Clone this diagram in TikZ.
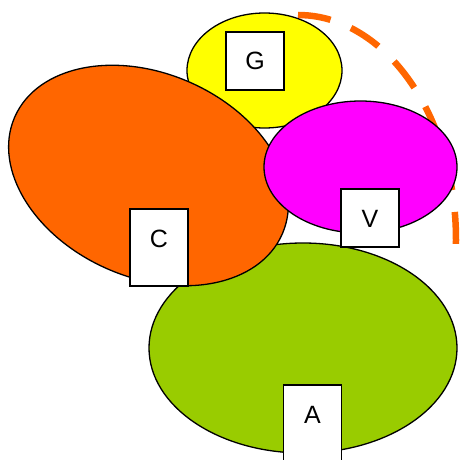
\documentclass[tikz,border=0pt]{standalone}
\usepackage{fontspec}
\setmainfont{Liberation Sans}
\usetikzlibrary{shapes.geometric,positioning}

\definecolor{fillG}{HTML}{FFFF00}
\definecolor{fillC}{HTML}{FF6600}
\definecolor{fillV}{HTML}{FF00FF}
\definecolor{fillA}{HTML}{99CC00}

\begin{document}
\begin{tikzpicture}[x=1pt,y=-1pt,
        blob/.style={ellipse,draw=black,line width=1.3pt,inner sep=0pt},
        tag/.style={rectangle,draw=black,fill=white,line width=1.6pt,inner sep=0pt,
            minimum width=58pt,text height=38pt,text depth=20pt,
            font=\fontsize{25}{30}\selectfont},
        tall/.style={text depth=39pt},
        ring/.style={draw=fillC,line width=6.5pt,dash pattern=on 33pt off 22pt}]
        % Page frame
        \useasboundingbox (0,0) rectangle (461,460);

        % Dashed ring behind the blobs
        \coordinate (R1) at (298,15);
        \draw [ring] (R1) arc[start angle=90,end angle=-1,x radius=158pt,y radius=225pt];

        % The blobs
        \begin{scope}
            \node [blob,fill=fillG,minimum width=155pt,minimum height=115pt] (G) at (264.5,70.5) {};
            \node [blob,fill=fillA,minimum width=308pt,minimum height=210pt] (A) at (303,348) {};
            \node [blob,fill=fillC,minimum width=292pt,minimum height=204pt,rotate=-23.6] (C) at (148.5,175.5) {};
            \node [blob,fill=fillV,minimum width=193pt,minimum height=132pt] (V) at (360.5,167) {};
        \end{scope}

        % The labels
        \begin{scope}
            \node [tag] (G1) at (255,61) {G};
            \node [tag] (V1) at (370,218) {V};
            \node [tag,tall] (C1) at (159,247.5) {C};
            \node [tag,tall] (A1) at (312.5,423.5) {A};
        \end{scope}
\end{tikzpicture}
\end{document}
